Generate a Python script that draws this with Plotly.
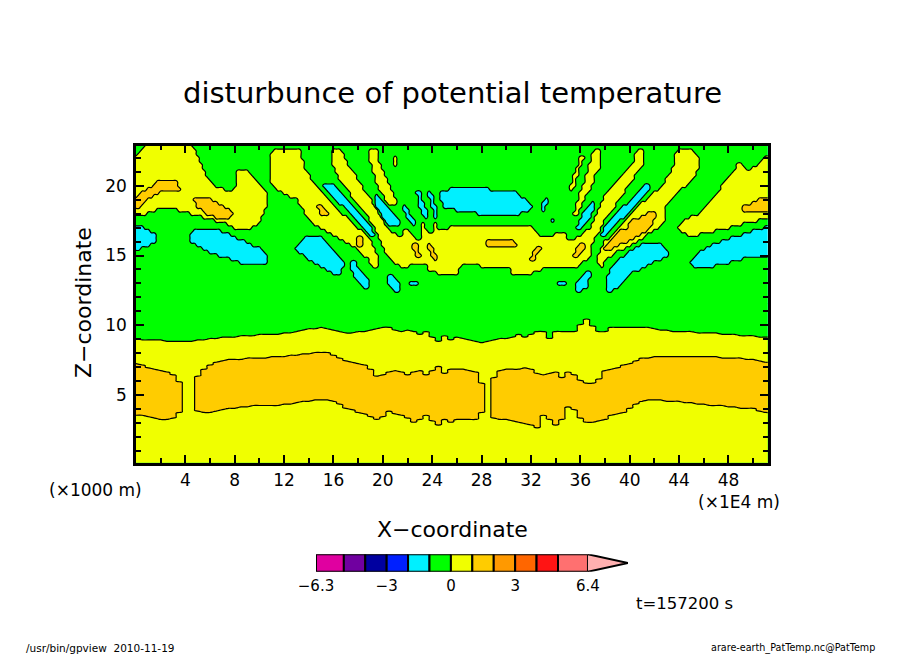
import numpy as np
import plotly.graph_objects as go

# contour band values (K) at the centre of each colour band
C, G, Y, O = -1.5, -0.5, 0.5, 1.5

# ---- lower part of the section, read column by column (x step 0.5, 1E4 m)
green_start = [9.0,8.98,8.95,8.93,8.9,8.88,8.85,8.82,8.8,8.85,8.9,8.97,9.03,9.08,9.13,9.17,9.2,9.22,9.25,9.27,9.3,9.32,9.35,9.38,9.4,9.45,9.55,9.65,9.75,9.78,9.8,9.78,9.65,9.5,9.4,9.45,9.55,9.6,9.65,9.75,9.85,9.85,9.65,9.55,9.65,9.5,9.3,9.6,9.2,8.85,9.25,8.95,9.1,9.0,8.95,8.85,8.72,8.85,8.95,9.0,9.05,9.15,9.3,9.2,9.3,9.55,9.6,9.0,9.55,9.6,9.55,9.6,10.0,10.45,9.95,9.5,9.55,9.8,9.82,9.82,9.8,9.8,9.8,9.8,9.75,9.7,9.65,9.6,9.55,9.53,9.5,9.48,9.45,9.42,9.4,9.35,9.3,9.3,9.28,9.25,9.22,9.2,9.2,9.2]
orange_top = [7.27,7.15,7.0,6.85,6.75,6.67,6.5,6.0,None,None,6.4,6.9,7.2,7.4,7.48,7.52,7.55,7.6,7.63,7.66,7.68,7.7,7.72,7.74,7.77,7.82,7.9,7.96,8.0,8.02,8.05,8.05,7.85,7.65,7.5,7.35,7.22,7.15,6.85,6.4,6.5,6.62,6.75,6.65,6.5,6.65,6.78,6.5,6.8,7.05,6.6,6.9,6.85,6.85,6.8,6.7,5.85,None,6.3,6.75,6.85,6.85,6.85,7.0,6.85,6.55,6.45,6.55,6.65,6.3,6.65,6.45,6.1,5.85,5.9,6.2,6.8,6.9,7.0,7.15,7.3,7.5,7.65,7.7,7.72,7.75,7.75,7.75,7.75,7.74,7.74,7.73,7.72,7.72,7.71,7.7,7.7,7.65,7.62,7.6,7.55,7.5,7.4,7.4]
orange_bottom = [3.57,3.5,3.42,3.35,3.3,3.28,3.35,3.8,None,None,3.9,3.78,3.78,3.85,3.95,4.05,4.1,4.13,4.18,4.2,4.22,4.24,4.26,4.28,4.3,4.35,4.45,4.55,4.6,4.63,4.65,4.63,4.5,4.3,4.1,3.98,3.7,3.6,3.45,3.3,3.45,3.9,3.6,3.5,3.35,3.05,3.3,3.5,3.15,2.85,3.25,3.05,3.2,3.2,3.2,3.2,3.7,None,3.4,3.25,3.2,3.1,3.0,2.95,2.85,2.65,3.5,3.25,2.85,3.3,4.15,3.95,3.35,3.05,3.0,3.15,3.3,3.5,3.6,3.7,4.0,4.3,4.5,4.65,4.65,4.62,4.6,4.55,4.5,4.45,4.4,4.35,4.3,4.28,4.24,4.2,4.15,4.12,4.1,4.05,4.0,3.9,3.8,3.8]

# ---- upper part, read row by row: height -> spans (x from, x to, band)
upper_rows = [
 (23.0, [(1,4.3,Y)]),
 (22.75, [(.6,4.5,Y)]),
 (22.5, [(.3,4.8,Y),(11.2,13.25,Y),(15.85,16.7,Y),(19,19.6,Y),(37.1,37.7,Y),(40.6,41,Y),(44,45.2,Y)]),
 (22.25, [(.1,4.9,Y),(11,13.35,Y),(15.8,16.8,Y),(18.95,19.65,Y),(37,37.7,Y),(40.5,41.1,Y),(43.7,45.4,Y)]),
 (22.0, [(0,5,Y),(10.95,13.45,Y),(15.8,16.85,Y),(18.9,19.65,Y),(20.85,21.1,Y),(36,36.25,Y),(36.95,37.7,Y),(40.45,41.15,Y),(43.7,45.5,Y),(51,51.3,Y)]),
 (21.75, [(0,5.2,Y),(10.9,13.55,Y),(15.85,17,Y),(18.95,19.7,Y),(20.9,21.15,Y),(35.9,36.15,Y),(36.85,37.65,Y),(40.3,41.1,Y),(43.65,45.6,Y),(50.65,51.3,Y)]),
 (21.5, [(0,5.35,Y),(10.9,13.6,Y),(15.9,17.15,Y),(19.05,19.85,Y),(20.9,21.15,Y),(35.8,36.05,Y),(36.75,37.6,Y),(40.2,41.05,Y),(43.65,45.6,Y),(48.7,49,Y),(50.3,51.3,Y)]),
 (21.25, [(0,5.45,Y),(10.9,13.7,Y),(16.05,17.35,Y),(19.1,19.95,Y),(35.7,35.95,Y),(36.65,37.5,Y),(39.95,40.85,Y),(43.5,45.5,Y),(48.55,49.4,Y),(50,51.3,Y)]),
 (21.0, [(0,5.55,Y),(8.25,9.1,Y),(10.9,13.85,Y),(16.2,17.55,Y),(19.2,20.1,Y),(35.6,35.85,Y),(36.55,37.35,Y),(39.7,40.65,Y),(43.3,45.4,Y),(48.35,51.3,Y)]),
 (20.75, [(0,5.7,Y),(8.2,9.4,Y),(10.9,14,Y),(16.35,17.75,Y),(19.3,20.2,Y),(35.5,35.75,Y),(36.45,37.2,Y),(39.45,40.45,Y),(43.15,45.25,Y),(48.1,51.3,Y)]),
 (20.5, [(0,5.85,Y),(8.15,9.7,Y),(10.9,14.15,Y),(16.5,17.95,Y),(19.4,20.35,Y),(35.4,35.65,Y),(36.4,37.1,Y),(39.2,40.25,Y),(43,45.1,Y),(47.9,51.3,Y)]),
 (20.25, [(0,6.05,Y),(8.1,9.9,Y),(11,14.3,Y),(16.7,18.1,Y),(19.5,20.45,Y),(35.35,35.6,Y),(36.3,37,Y),(38.95,40.05,Y),(42.85,44.85,Y),(47.7,51.3,Y),(1.55,3.3,O)]),
 (20.0, [(0,6.4,Y),(8.1,10.1,Y),(11.15,14.5,Y),(16.85,18.3,Y),(19.6,20.55,Y),(35.25,35.5,Y),(36.2,36.85,Y),(38.65,39.85,Y),(42.7,44.55,Y),(47.5,51.3,Y),(1.3,3.45,O),(15.2,16,C),(41.2,41.7,C)]),
 (19.75, [(0,7.1,Y),(7.9,10.3,Y),(11.5,14.75,Y),(17.05,18.45,Y),(19.75,20.65,Y),(35.1,35.35,Y),(36.1,36.8,Y),(38.4,39.7,Y),(42.35,44.2,Y),(47.3,51.3,Y),(.9,3.55,O),(15.45,16.3,C),(40.9,41.5,C),(25.4,28.6,C)]),
 (19.5, [(0,10.5,Y),(11.9,15,Y),(17.3,18.65,Y),(19.9,20.75,Y),(36,36.6,Y),(38.15,39.5,Y),(42,43.9,Y),(47.05,51.3,Y),(.35,1.9,O),(15.7,16.6,C),(22.75,23,C),(23.7,23.95,C),(24.75,30.75,C),(40.6,41.25,C)]),
 (19.25, [(0,10.5,Y),(12.5,15.3,Y),(17.5,18.8,Y),(20.05,20.9,Y),(35.95,36.45,Y),(37.95,39.3,Y),(41.7,43.6,Y),(46.8,51.3,Y),(.1,1.3,O),(16,16.85,C),(19.4,19.6,C),(22.8,23.05,C),(23.75,24,C),(24.7,31,C),(40.3,41,C)]),
 (19.0, [(0,10.5,Y),(13.1,15.6,Y),(17.7,19,Y),(20.2,21,Y),(35.85,36.35,Y),(37.8,39.15,Y),(41.4,43.3,Y),(46.6,51.3,Y),(0,.75,O),(4.75,6.2,O),(50.3,51.3,O),(16.25,17.1,C),(19.35,19.75,C),(22.85,23.15,C),(23.8,24.1,C),(24.75,31.5,C),(33.1,33.4,C),(40.05,40.75,C)]),
 (18.75, [(0,10.5,Y),(13.25,15.85,Y),(17.95,19.15,Y),(20.45,21,Y),(35.75,36.2,Y),(37.7,38.95,Y),(41,43,Y),(46.35,51.3,Y),(0,.5,O),(4.85,6.65,O),(49.9,51.3,O),(16.5,17.35,C),(19.4,20,C),(22.95,23.3,C),(23.85,24.2,C),(24.8,31.85,C),(33,33.3,C),(36.8,37.05,C),(39.8,40.5,C)]),
 (18.5, [(0,10.5,Y),(13.4,16.1,Y),(18.15,19.35,Y),(35.65,36.05,Y),(37.6,38.75,Y),(40.7,42.9,Y),(46.15,51.3,Y),(0,.25,O),(5,7.1,O),(14.7,15.1,O),(49.25,51.3,O),(16.8,17.6,C),(19.5,20.3,C),(21.7,21.95,C),(23,23.45,C),(23.95,24.3,C),(24.9,32.1,C),(32.9,33.2,C),(36.7,37,C),(39.5,40.3,C)]),
 (18.25, [(0,1.7,Y),(3.3,10.45,Y),(13.6,16.4,Y),(18.35,19.5,Y),(35.55,35.85,Y),(37.5,38.5,Y),(40.4,42.9,Y),(45.9,51.3,Y),(5.3,7.5,O),(14.85,15.3,O),(49.2,51.3,O),(17.05,17.8,C),(19.65,20.5,C),(21.75,22.05,C),(23.1,23.5,C),(24.05,24.35,C),(26,31.9,C),(32.85,33.1,C),(36.45,37,C),(39.25,40.05,C)]),
 (18.0, [(0,.8,Y),(4.4,10.4,Y),(13.75,16.7,Y),(18.55,19.7,Y),(35.5,35.75,Y),(37.4,38.3,Y),(40.15,42.9,Y),(45.6,51.3,Y),(5.7,7.9,O),(15,15.55,O),(41.3,42,O),(17.35,18.05,C),(19.85,20.75,C),(21.85,22.2,C),(23.2,23.6,C),(24.1,24.4,C),(27.75,31.1,C),(36.25,36.95,C),(39,39.8,C)]),
 (17.75, [(5.35,10.2,Y),(14,17,Y),(18.8,19.85,Y),(37.25,38.05,Y),(39.85,42.9,Y),(45,51.3,Y),(6.4,7.5,O),(40.8,42,O),(17.6,18.3,C),(20,21,C),(22,22.35,C),(23.3,23.6,C),(24.2,24.45,C),(36.1,36.75,C),(38.75,39.5,C)]),
 (17.5, [(6.3,10,Y),(14.1,17.25,Y),(19,20,Y),(37.1,37.9,Y),(39.6,42.9,Y),(44.4,50.45,Y),(40.2,41.9,O),(17.85,18.55,C),(20.15,21.3,C),(22.1,22.5,C),(33.6,33.85,C),(35.95,36.55,C),(38.5,39.2,C)]),
 (17.25, [(7.5,9.9,Y),(14.4,17.6,Y),(19.15,20.15,Y),(23.1,23.35,Y),(24.2,24.45,Y),(36.95,37.8,Y),(39.3,42.6,Y),(44.1,49.2,Y),(39.9,41.75,O),(18.15,18.8,C),(20.5,21.3,C),(22.3,22.55,C),(35.8,36.3,C),(38.25,38.95,C)]),
 (17.0, [(8,9.3,Y),(14.9,17.9,Y),(19.3,20.3,Y),(23.1,23.4,Y),(24.2,24.45,Y),(25.3,32.2,Y),(36.85,37.7,Y),(39.05,42.3,Y),(43.8,48.1,Y),(40,41.6,O),(0,.7,C),(18.4,19.05,C),(35.6,36.1,C),(38,38.65,C),(50.9,51.3,C)]),
 (16.75, [(15.4,18.3,Y),(19.4,20.7,Y),(21.7,22.1,Y),(23.1,23.7,Y),(24.2,32.25,Y),(36.5,37.6,Y),(38.8,41.9,Y),(44.2,46.8,Y),(39.25,41.3,O),(0,1.1,C),(4.7,6.8,C),(18.7,19.2,C),(37.8,38.3,C),(50,51.3,C)]),
 (16.5, [(15.95,18.7,Y),(19.55,21.1,Y),(21.55,22.4,Y),(23.05,24,Y),(24.15,32.6,Y),(33.85,34.9,Y),(36.2,37.4,Y),(38.55,41.4,Y),(44.55,45.5,Y),(38.95,40.9,O),(0,1.5,C),(4.4,7.6,C),(19,19.3,C),(37.6,38,C),(49.1,51.3,C)]),
 (16.25, [(16.4,18.85,Y),(19.65,22.7,Y),(23.05,34.95,Y),(35.7,37.05,Y),(38.3,41,Y),(18,18.3,O),(38.6,40.3,O),(0,1.6,C),(4.3,8.2,C),(13.65,15.1,C),(48.2,51.3,C)]),
 (16.0, [(16.9,19,Y),(19.8,37,Y),(38,40.55,Y),(17.8,18.35,O),(28.5,30.7,O),(38.3,39.8,O),(0,1.5,C),(4.4,8.8,C),(13.45,15.25,C),(47.3,51.3,C)]),
 (15.75, [(17.35,19.2,Y),(19.9,36.95,Y),(37.85,40,Y),(18,18.45,O),(22.35,22.85,O),(23.7,23.95,O),(28.3,30.9,O),(35.95,36.35,O),(38.1,39.1,O),(0,1.2,C),(4.9,9.4,C),(13.15,15.6,C),(40.9,42.6,C),(46.7,51.3,C)]),
 (15.5, [(17.85,19.35,Y),(20.05,36.95,Y),(37.7,39.5,Y),(22.45,22.85,O),(23.75,24,O),(32.3,32.8,O),(35.75,36.35,O),(38,38.7,O),(0,.4,C),(5.4,10,C),(13,15.85,C),(40.4,42.8,C),(46.1,51.3,C)]),
 (15.25, [(18.2,19.45,Y),(20.15,36.9,Y),(37.55,38.95,Y),(22.6,22.95,O),(23.85,24.2,O),(32.2,32.65,O),(35.6,36.2,O),(6,10.35,C),(13.2,16.15,C),(39.95,43,C),(45.75,51.3,C)]),
 (15.0, [(18.5,19.5,Y),(20.3,36.75,Y),(37.4,38.5,Y),(22.75,23,O),(23.95,24.3,O),(32.05,32.45,O),(35.5,35.95,O),(6.7,10.7,C),(13.55,16.45,C),(39.6,43,C),(45.45,51.3,C)]),
 (14.75, [(18.8,19.5,Y),(20.6,36.5,Y),(37.45,38.2,Y),(24.05,24.3,O),(32,32.25,O),(7.6,10.65,C),(13.95,16.65,C),(39.25,42.5,C),(45.1,49.1,C)]),
 (14.5, [(19,19.5,Y),(20.95,36.2,Y),(37.5,37.95,Y),(8.5,10.55,C),(14.4,16.85,C),(17.35,17.75,C),(38.9,41.9,C),(44.85,48,C)]),
 (14.25, [(19.25,19.5,Y),(21.5,22.2,Y),(23.6,26.3,Y),(28,35.85,Y),(37.55,37.8,Y),(14.95,16.8,C),(17.45,17.9,C),(38.65,41.4,C),(45.15,46.9,C)]),
 (14.0, [(23.6,26.2,Y),(30.3,32.75,Y),(15.35,16.7,C),(17.5,18.2,C),(38.4,40.9,C)]),
 (13.75, [(24.5,26.1,Y),(30.4,32.2,Y),(16,16.5,C),(17.6,18.4,C),(36.3,36.75,C),(38.3,40.2,C)]),
 (13.5, [(17.75,18.6,C),(20.4,20.85,C),(36.1,36.75,C),(38.2,39.9,C)]),
 (13.25, [(17.95,18.75,C),(20.35,21.05,C),(35.8,36.7,C),(38.1,39.6,C)]),
 (13.0, [(18.15,18.9,C),(20.4,21.25,C),(22.25,22.75,C),(34.25,34.75,C),(35.65,36.7,C),(38.05,39.3,C)]),
 (12.75, [(18.45,18.85,C),(20.6,21.3,C),(35.7,36.5,C),(38.05,39,C)]),
 (12.5, [(20.8,21.3,C),(35.7,36.2,C),(38.1,38.7,C)]),
 (12.25, []),
 (12.0, []),
 (11.5, []),
]

# ---- colour bar
bar_levels = [-6.3,-5,-4,-3,-2,-1,0,1,2,3,4,5,6.4]
bar_colors = ["#e000a0","#7000a0","#0000a0","#0020ff","#00f0ff","#00ff00","#f0ff00","#ffcc00","#ff9900","#ff6600","#ff1414","#ff7070"]
over_color = "#ffb0b0"
bar_tip = 8.27
bar_ticks = [-6.3,-3,0,3,6.4]
bar_tick_text = ["\u22126.3","\u22123","0","3","6.4"]

x_ticks = list(range(4,49,4))
y_ticks = [5,10,15,20]

# ---- grids
lower_x = np.arange(len(green_start))*0.5
lower_y = np.arange(0,11.65,0.1)
z_lower = np.full((len(lower_y),len(lower_x)),Y)
for j in range(len(lower_x)):
    z_lower[lower_y>green_start[j],j] = G
    if orange_top[j] is not None:
        z_lower[(lower_y>orange_bottom[j])&(lower_y<orange_top[j]),j] = O

upper_x = np.arange(0,51.3,0.25)
upper_y = np.array([r[0] for r in upper_rows][::-1])
z_upper = np.full((len(upper_y),len(upper_x)),G)
for i,(h,spans) in enumerate(upper_rows[::-1]):
    for a,b,v in spans:
        z_upper[i,(upper_x>=a)&(upper_x<=b)] = v

scale = [[0,"#00f0ff"],[.17,"#00f0ff"],[.17,"#00ff00"],[.5,"#00ff00"],[.5,"#f0ff00"],[.83,"#f0ff00"],[.83,"#ffcc00"],[1,"#ffcc00"]]
def band(x,y,z):
    return go.Contour(x=x,y=y,z=z,colorscale=scale,showscale=False,hoverinfo="skip",
        contours=dict(start=-1,end=1,size=1,coloring="fill",showlines=True),
        line=dict(color="black",width=1.2,smoothing=1.3))

fig = go.Figure()
fig.add_trace(band(upper_x,upper_y,z_upper))
fig.add_trace(band(lower_x,lower_y,z_lower))

# colour bar traces
fig.add_trace(go.Bar(y=[0.5]*len(bar_colors),x=np.diff(bar_levels),base=bar_levels[:-1],orientation="h",width=1,
    marker=dict(color=bar_colors,line=dict(color="black",width=2)),xaxis="x2",yaxis="y2",showlegend=False,hoverinfo="skip"))
fig.add_trace(go.Scatter(x=[bar_levels[-1],bar_tip,bar_levels[-1]],y=[1,0.5,0],fill="toself",fillcolor=over_color,mode="lines",
    line=dict(color="black",width=2),xaxis="x2",yaxis="y2",showlegend=False,hoverinfo="skip"))

W,H = 904,654
def px(a): return a/W
def py(b): return (H-b)/H

FONT = "DejaVu Sans"
def note(x,y,text,size,anchor="center",angle=0):
    return dict(x=px(x),y=py(y),xref="paper",yref="paper",text=text,showarrow=False,xanchor=anchor,yanchor="middle",
                font=dict(family=FONT,size=size,color="black"),textangle=angle)

axis = dict(showgrid=False,zeroline=False,showline=True,linecolor="black",linewidth=2.5,mirror="allticks",ticks="inside",
            tickcolor="black",tickwidth=2,ticklen=8,tickfont=dict(family=FONT,size=17,color="black"))
fig.update_layout(
    width=W,height=H,autosize=False,margin=dict(l=0,r=0,t=0,b=0,autoexpand=False),paper_bgcolor="white",plot_bgcolor="white",
    barmode="overlay",showlegend=False,
    xaxis=dict(axis,domain=[px(136),px(767.7)],range=[0,51.18],tickvals=x_ticks,
               minor=dict(dtick=2,tick0=0,ticks="inside",ticklen=5,tickwidth=1.5,tickcolor="black")),
    yaxis=dict(axis,domain=[py(462.7),py(145.7)],range=[0.15,22.87],tickvals=y_ticks,ticklabelstandoff=3,
               minor=dict(dtick=1,tick0=0,ticks="inside",ticklen=5,tickwidth=1.5,tickcolor="black")),
    xaxis2=dict(domain=[px(316),px(628)],range=[-6.3,bar_tip],anchor="y2",showgrid=False,zeroline=False,showline=False,
                tickvals=bar_ticks,ticktext=bar_tick_text,ticks="",ticklabelstandoff=3,tickfont=dict(family=FONT,size=15,color="black")),
    yaxis2=dict(domain=[py(571.7),py(554.3)],range=[0,1],anchor="x2",showgrid=False,zeroline=False,showline=False,showticklabels=False,ticks=""),
    annotations=[
        note(452,93,"disturbunce of potential temperature",29),
        note(95,490,"(\u00d71000 m)",17),
        note(739,502,"(\u00d71E4 m)",17),
        note(452,529,"X\u2212coordinate",22),
        note(83,303,"Z\u2212coordinate",22,angle=-90),
        note(684,603,"t=157200 s",16.5),
        note(24,648,"/usr/bin/gpview&nbsp;&nbsp;2010-11-19",10.5,anchor="left"),
        note(877,648,"arare-earth_PatTemp.nc@PatTemp",9.6,anchor="right"),
    ],
)
fig.write_html("out.html",config=dict(displayModeBar=False),post_script="document.body.style.margin='0';")
